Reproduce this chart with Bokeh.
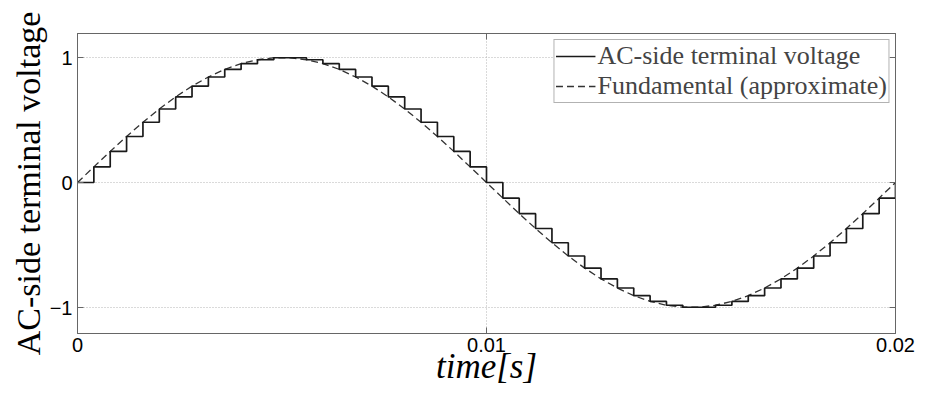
from bokeh.plotting import figure
from bokeh.models import (FixedTicker, LinearAxis, Range1d, Legend, LegendItem,
                          NumeralTickFormatter)
from bokeh.embed import file_html
from bokeh.resources import INLINE

# ---- data ----
time_s = [0.0000, 0.0004, 0.0008, 0.0012, 0.0016, 0.0020, 0.0024, 0.0028, 0.0032, 0.0036,
          0.0040, 0.0044, 0.0048, 0.0052, 0.0056, 0.0060, 0.0064, 0.0068, 0.0072, 0.0076,
          0.0080, 0.0084, 0.0088, 0.0092, 0.0096, 0.0100, 0.0104, 0.0108, 0.0112, 0.0116,
          0.0120, 0.0124, 0.0128, 0.0132, 0.0136, 0.0140, 0.0144, 0.0148, 0.0152, 0.0156,
          0.0160, 0.0164, 0.0168, 0.0172, 0.0176, 0.0180, 0.0184, 0.0188, 0.0192, 0.0196,
          0.0200]

terminal_voltage = [0.000, 0.125, 0.249, 0.368, 0.482, 0.588, 0.685, 0.771, 0.844, 0.905,
                    0.951, 0.982, 0.998, 0.998, 0.982, 0.951, 0.905, 0.844, 0.771, 0.685,
                    0.588, 0.482, 0.368, 0.249, 0.125, 0.000, -0.125, -0.249, -0.368, -0.482,
                    -0.588, -0.685, -0.771, -0.844, -0.905, -0.951, -0.982, -0.998, -0.998, -0.982,
                    -0.951, -0.905, -0.844, -0.771, -0.685, -0.588, -0.482, -0.368, -0.249, -0.125,
                    0.000]

fundamental = [0.000, 0.125, 0.249, 0.368, 0.482, 0.588, 0.685, 0.771, 0.844, 0.905,
               0.951, 0.982, 0.998, 0.998, 0.982, 0.951, 0.905, 0.844, 0.771, 0.685,
               0.588, 0.482, 0.368, 0.249, 0.125, 0.000, -0.125, -0.249, -0.368, -0.482,
               -0.588, -0.685, -0.771, -0.844, -0.905, -0.951, -0.982, -0.998, -0.998, -0.982,
               -0.951, -0.905, -0.844, -0.771, -0.685, -0.588, -0.482, -0.368, -0.249, -0.125,
               0.000]

x_ticks = [0, 0.01, 0.02]
y_ticks = [-1, 0, 1]
series_labels = ["AC-side terminal voltage", "Fundamental (approximate)"]

AXIS_COLOR = "#666666"
GRID_COLOR = "#b4b4b4"

p = figure(width=926, height=394, output_backend="svg", toolbar_location=None,
           x_range=Range1d(0, 0.02), y_range=Range1d(-1.208, 1.192),
           min_border_left=77, min_border_right=31, min_border_top=33, min_border_bottom=61)
p.background_fill_color = "white"
p.border_fill_color = "white"
p.outline_line_color = AXIS_COLOR

r_fund = p.line(time_s, fundamental, line_color="#333333", line_width=1.3, line_dash="7 4")
r_stair = p.step(time_s, terminal_voltage, mode="after", line_color="#1a1a1a", line_width=1.7)

# axes
xt = FixedTicker(ticks=x_ticks)
yt = FixedTicker(ticks=y_ticks)

for ax in p.xaxis:
    ax.ticker = xt
    ax.formatter = NumeralTickFormatter(format="0.[00]")
    ax.axis_label = "time[s]"
    ax.axis_label_text_font = "Liberation Serif"
    ax.axis_label_text_font_style = "italic"
    ax.axis_label_text_font_size = "35px"
    ax.axis_label_standoff = -8
    ax.major_label_text_font = "Liberation Sans"
    ax.major_label_text_font_size = "20px"
    ax.major_label_standoff = 4

for ax in p.yaxis:
    ax.ticker = yt
    ax.axis_label = "AC-side terminal voltage"
    ax.axis_label_text_font = "Liberation Serif"
    ax.axis_label_text_font_style = "normal"
    ax.axis_label_text_font_size = "34px"
    ax.axis_label_standoff = 0
    ax.major_label_text_font = "Liberation Sans"
    ax.major_label_text_font_size = "20px"
    ax.major_label_standoff = 5

right = LinearAxis(ticker=yt, major_label_text_font_size="0px", major_label_standoff=0)
top = LinearAxis(ticker=xt, major_label_text_font_size="0px", major_label_standoff=0)
p.add_layout(right, "right")
p.add_layout(top, "above")

for ax in [*p.xaxis, *p.yaxis, right, top]:
    ax.axis_line_color = AXIS_COLOR
    ax.major_tick_line_color = AXIS_COLOR
    ax.major_tick_in = 6
    ax.major_tick_out = 0
    ax.minor_tick_line_color = None
    ax.axis_label_text_color = "black"
    ax.major_label_text_color = "black"

p.xgrid.ticker = xt
p.ygrid.ticker = yt
for g in [p.xgrid[0], p.ygrid[0]]:
    g.grid_line_color = GRID_COLOR
    g.grid_line_dash = "1 2"
    g.grid_line_width = 1

legend = Legend(items=[LegendItem(label=series_labels[0], renderers=[r_stair]),
                       LegendItem(label=series_labels[1], renderers=[r_fund])],
                location="top_right", margin=6, padding=1, spacing=0,
                glyph_width=40, glyph_height=20, label_standoff=2, label_height=20,
                label_text_font="Liberation Serif", label_text_font_size="26px",
                border_line_color=AXIS_COLOR, border_line_width=1,
                background_fill_color="white", background_fill_alpha=1.0)
p.add_layout(legend)

open("out.html", "w").write(file_html(p, INLINE))
